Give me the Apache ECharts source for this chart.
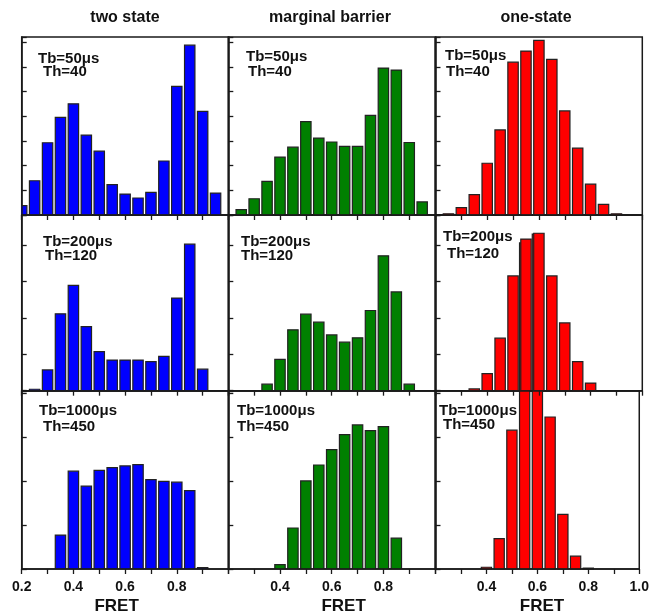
<!DOCTYPE html>
<html>
<head>
<meta charset="utf-8">
<script src="https://cdn.jsdelivr.net/npm/echarts@6/dist/echarts.min.js"></script>
<style>
  html, body { margin: 0; padding: 0; background: #fff; }
  #chart { width: 652px; height: 615px; }
</style>
</head>
<body>
<div id="chart"></div>
<script>
// FRET histogram bin centres (bin width 0.05)
const fretBins = [0.20, 0.25, 0.30, 0.35, 0.40, 0.45, 0.50, 0.55, 0.60, 0.65, 0.70, 0.75, 0.80, 0.85, 0.90, 0.95];

// Column headings: folding models
const models = ['two state', 'marginal barrier', 'one-state'];
// Row annotations: bin time and photon threshold
const binTimes = ['Tb=50\u03bcs', 'Tb=200\u03bcs', 'Tb=1000\u03bcs'];
const thresholds = ['Th=40', 'Th=120', 'Th=450'];

// Occurrences (in y-tick units) per FRET bin
const twoState50    = [0.38, 1.39, 2.93, 3.96, 4.51, 3.24, 2.59, 1.23, 0.85, 0.69, 0.92, 2.19, 5.22, 6.89, 4.20, 0.89];
const marginal50    = [0, 0.22, 0.66, 1.36, 2.35, 2.75, 3.79, 3.12, 2.96, 2.78, 2.78, 4.04, 5.96, 5.88, 2.94, 0.53];
const oneState50    = [0, 0.05, 0.30, 0.83, 2.10, 3.45, 6.20, 6.65, 7.08, 6.31, 4.22, 2.71, 1.25, 0.43, 0.05, 0];

const twoState200   = [0, 0.04, 0.57, 2.11, 2.89, 1.76, 1.07, 0.84, 0.84, 0.84, 0.80, 0.94, 2.54, 4.02, 0.59, 0];
const marginal200   = [0, 0, 0, 0.18, 0.86, 1.67, 2.10, 1.88, 1.53, 1.33, 1.45, 2.20, 3.70, 2.71, 0.18, 0];
const oneState200   = [0, 0, 0, 0.05, 0.47, 1.44, 3.15, 4.16, 4.32, 3.15, 1.86, 0.80, 0.21, 0, 0, 0];

const twoState1000  = [0, 0, 0, 0.77, 2.22, 1.88, 2.24, 2.30, 2.34, 2.37, 2.03, 1.99, 1.97, 1.78, 0.03, 0];
const marginal1000  = [0, 0, 0, 0, 0.10, 0.93, 2.00, 2.36, 2.71, 3.05, 3.27, 3.14, 3.23, 0.70, 0, 0];
const oneState1000  = [0, 0, 0, 0, 0.04, 0.69, 3.15, 7.40, 7.60, 3.45, 1.24, 0.29, 0.02, 0, 0, 0];

// x tick labels shown under each column of the bottom row
const xTickLabels = [
  ['0.2', '0.4', '0.6', '0.8'],
  ['0.4', '0.6', '0.8'],
  ['0.4', '0.6', '0.8', '1.0']
];

const panelValues = [
  [twoState50,   marginal50,   oneState50],
  [twoState200,  marginal200,  oneState200],
  [twoState1000, marginal1000, oneState1000]
];
const colColors = ['#0000ff', '#008000', '#ff0000'];

// layout
const colLeft = [21.7, 228.3, 435.5];
const colWidth = 206.8;
const rowTop = [37, 215, 391];
const rowHeight = [178, 175.7, 178];
const rowYMax = [7.22, 4.82, 4.04];
const BAR_HALF = 0.0201; // half bar width, FRET units

const FONT = '"Liberation Sans", Arial, sans-serif';

const grids = [], xAxes = [], yAxes = [], series = [], graphics = [];

function histogramBar(color) {
  return function (params, api) {
    const x = api.value(0), y = api.value(1);
    const p0 = api.coord([x - BAR_HALF, 0]);
    const p1 = api.coord([x + BAR_HALF, y]);
    return {
      type: 'rect',
      shape: { x: p0[0], y: p1[1], width: p1[0] - p0[0], height: p0[1] - p1[1] },
      style: { fill: color, stroke: '#222', lineWidth: 1.2 }
    };
  };
}

for (let r = 0; r < 3; r++) {
  for (let c = 0; c < 3; c++) {
    const idx = r * 3 + c;
    grids.push({
      left: colLeft[c], top: rowTop[r], width: colWidth, height: rowHeight[r],
      show: true, borderColor: '#1a1a1a', borderWidth: 1.5, backgroundColor: 'transparent'
    });
    const isBottom = r === 2;
    const shown = xTickLabels[c];
    xAxes.push({
      type: 'value', gridIndex: idx, min: 0.2, max: 1.0, interval: 0.1, z: 5,
      axisLine: { show: true, onZero: false, lineStyle: { color: '#1a1a1a', width: 1.5 } },
      axisTick: { show: true, inside: false, length: 5, lineStyle: { color: '#1a1a1a', width: 1.3 } },
      splitLine: { show: false },
      axisLabel: {
        show: isBottom, margin: 11, color: '#111', fontSize: 14, fontWeight: 'bold', fontFamily: FONT,
        showMinLabel: true, showMaxLabel: true, hideOverlap: false,
        formatter: v => { const s = (Math.round(v * 10) / 10).toFixed(1); return shown.includes(s) ? s : ''; }
      }
    });
    yAxes.push({
      type: 'value', gridIndex: idx, min: 0, max: rowYMax[r], interval: 1, z: 5,
      axisLine: { show: true, lineStyle: { color: '#1a1a1a', width: 1.5 } },
      axisTick: { show: true, inside: true, length: 5, lineStyle: { color: '#1a1a1a', width: 1.3 } },
      axisLabel: { show: false },
      splitLine: { show: false }
    });
    const vals = panelValues[r][c];
    const data = [];
    fretBins.forEach((f, i) => { if (vals[i] > 0) data.push([f, vals[i]]); });
    series.push({
      type: 'custom', xAxisIndex: idx, yAxisIndex: idx,
      data: data,
      encode: { x: 0, y: 1 },
      renderItem: histogramBar(colColors[c]),
      z: r === 2 ? 2 : 3,
      // the tallest one-state bars at 1000 us run past the panel top
      clip: !(r === 2 && c === 2),
      silent: true
    });
  }
}

// column headings
const titleX = [125, 330, 536];
models.forEach((m, c) => {
  graphics.push({
    type: 'text', x: titleX[c], y: 18,
    style: { text: m, font: 'bold 16px ' + FONT, fill: '#111', textAlign: 'center', textVerticalAlign: 'middle' }
  });
});

// axis titles under the bottom row
const fretX = [116.6, 343.6, 542];
fretX.forEach(x => {
  graphics.push({
    type: 'text', x: x, y: 606.5,
    style: { text: 'FRET', font: 'bold 17px ' + FONT, fill: '#111', textAlign: 'center', textVerticalAlign: 'middle' }
  });
});

// in-panel annotations (left edge, vertical centre of each line)
const labelPos = [
  [[38, 58.5], [43, 72]],   [[246, 57], [248, 72]],     [[445, 56], [446, 71.5]],
  [[43, 242], [45, 256]],   [[241, 242], [241, 255.5]], [[443, 237], [447, 253.5]],
  [[39, 410.5], [43, 427]], [[237, 410.5], [237, 427]], [[439, 410.5], [443, 425]]
];
for (let r = 0; r < 3; r++) {
  for (let c = 0; c < 3; c++) {
    const p = labelPos[r * 3 + c];
    [binTimes[r], thresholds[r]].forEach((t, k) => {
      graphics.push({
        type: 'text', x: p[k][0], y: p[k][1], z: 10,
        style: { text: t, font: 'bold 15px ' + FONT, fill: '#111', textAlign: 'left', textVerticalAlign: 'middle' }
      });
    });
  }
}

const chart = echarts.init(document.getElementById('chart'), null, { renderer: 'canvas' });
chart.setOption({
  animation: false,
  backgroundColor: '#ffffff',
  grid: grids,
  xAxis: xAxes,
  yAxis: yAxes,
  series: series,
  graphic: graphics
});
</script>
</body>
</html>
